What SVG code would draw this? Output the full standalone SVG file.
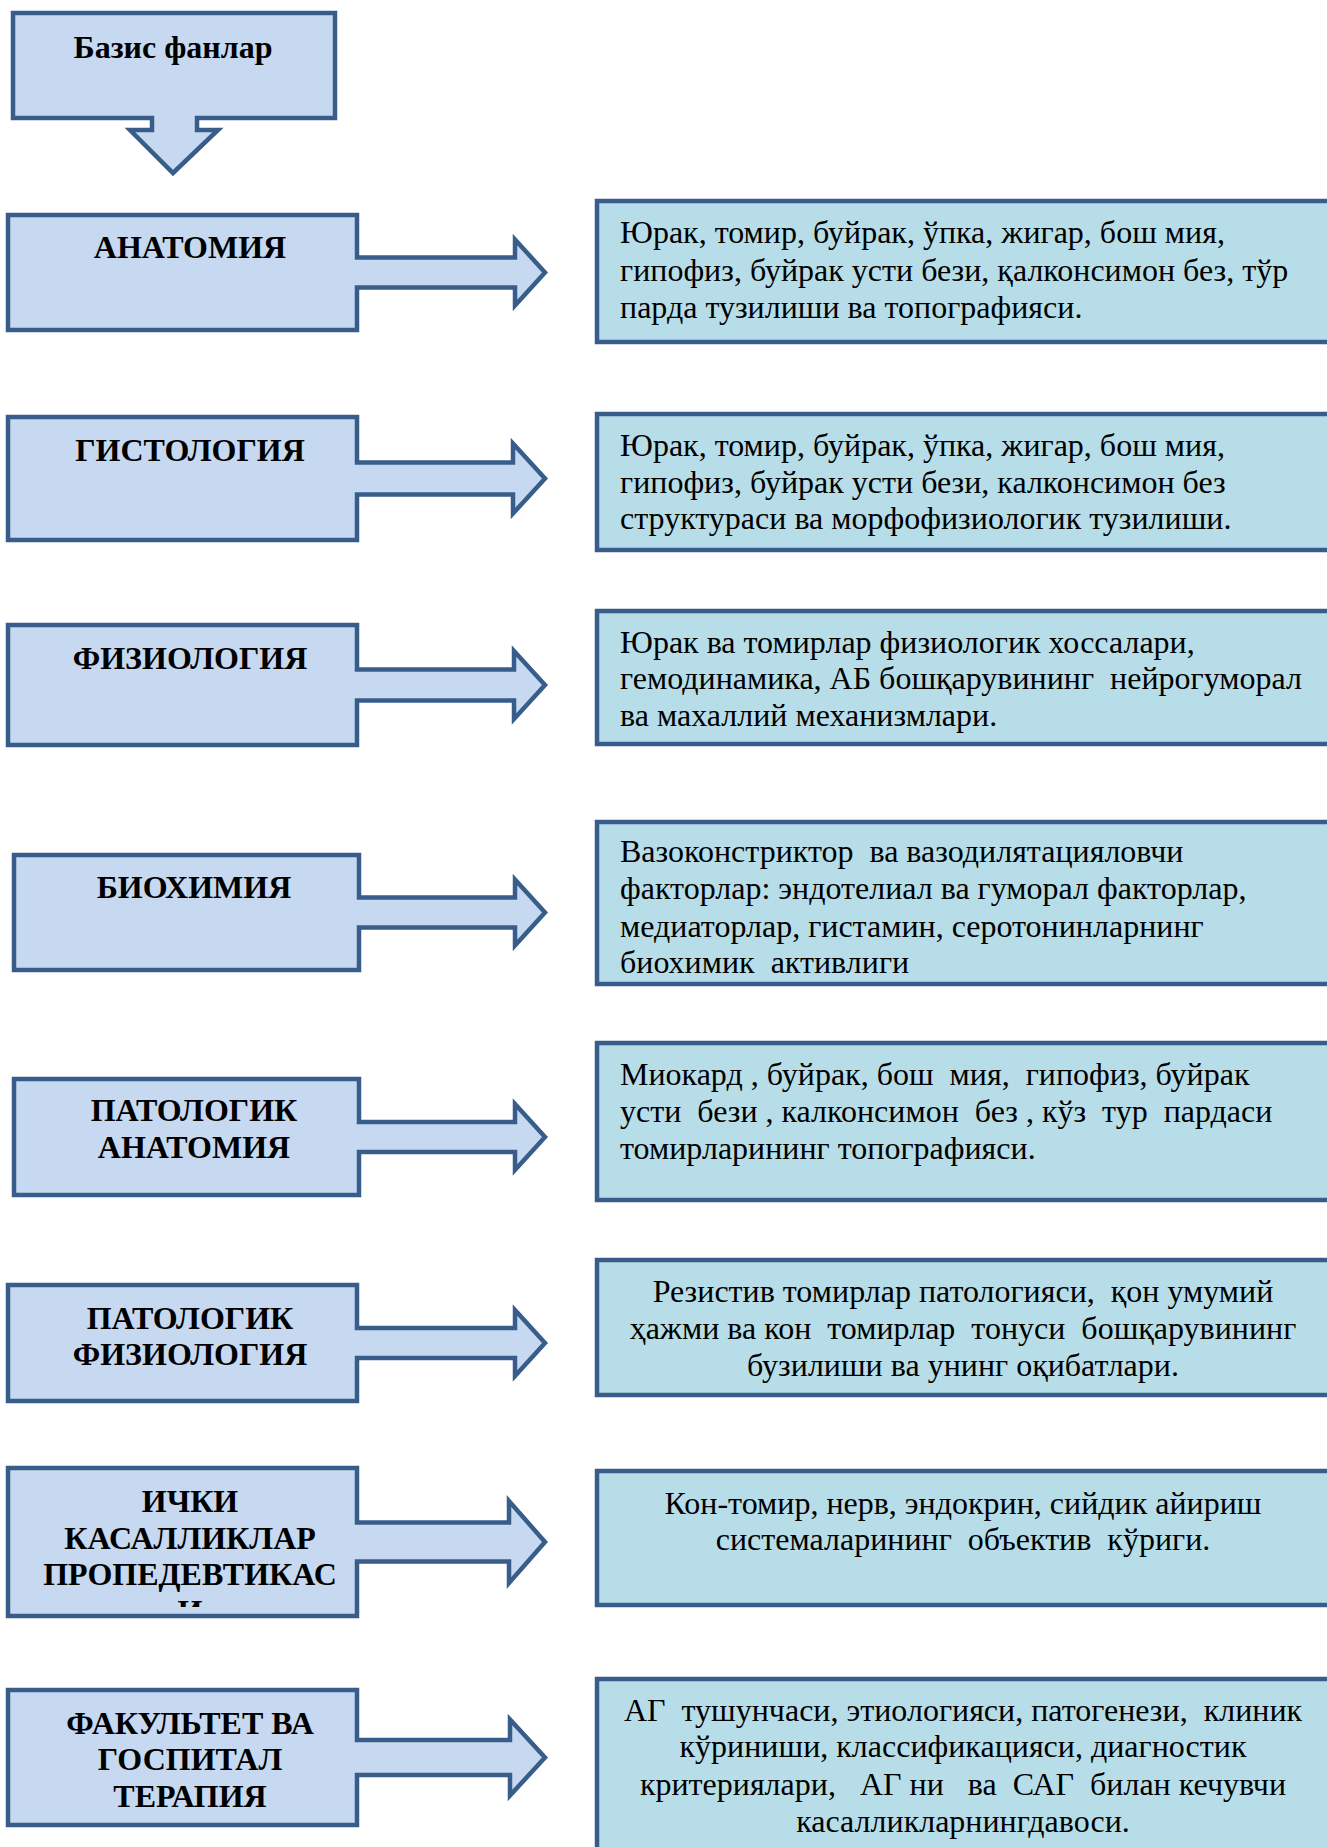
<svg xmlns="http://www.w3.org/2000/svg" width="1327" height="1847" viewBox="0 0 1327 1847">
<style>
.lbox{fill:#C6D9F1;stroke:#385D8A;stroke-width:4.5;stroke-linejoin:miter}
.rbox{fill:#B7DDE8;stroke:#385D8A;stroke-width:4.5}
.lt{font-family:"Liberation Serif","Times New Roman",serif;font-size:32px;font-weight:bold;fill:#000;text-anchor:middle}
.rt{font-family:"Liberation Serif","Times New Roman",serif;font-size:32px;fill:#000}
.c{text-anchor:middle}
</style>
<defs>
<clipPath id="clip7"><rect x="0" y="1460" width="360" height="147"/></clipPath>
</defs>
<rect width="1327" height="1847" fill="#fff"/>
<g id="basis">
<path class="lbox" d="M13 13 H335 V118 H197 V130 H218 L173 173 L130 130 H152 V118 H13 Z"/>
<text class="lt" x="173" y="58">Базис фанлар</text>
</g>
<g id="connectors">
</g>
<g id="n1">
<path class="lbox" d="M8 215 H357 V257.5 H515 V239.5 L545 272.5 L515 305.5 V287.5 H357 V330 H8 Z"/>
<text class="lt" x="190" y="258">АНАТОМИЯ</text>
</g>
<g id="n2">
<path class="lbox" d="M8 417 H357 V462.5 H513 V443.5 L545 478.5 L513 513.5 V494.5 H357 V540 H8 Z"/>
<text class="lt" x="190" y="461">ГИСТОЛОГИЯ</text>
</g>
<g id="n3">
<path class="lbox" d="M8 625 H357 V669.5 H514 V651 L545 685 L514 719 V700.5 H357 V745 H8 Z"/>
<text class="lt" x="190" y="669">ФИЗИОЛОГИЯ</text>
</g>
<g id="n4">
<path class="lbox" d="M14 855 H359 V897.5 H515 V879.5 L545 912.5 L515 945.5 V927.5 H359 V970 H14 Z"/>
<text class="lt" x="194" y="898">БИОХИМИЯ</text>
</g>
<g id="n5">
<path class="lbox" d="M14 1079 H359 V1122 H515 V1104 L545 1137 L515 1170 V1152 H359 V1195 H14 Z"/>
<text class="lt" x="194" y="1121">ПАТОЛОГИК</text>
<text class="lt" x="194" y="1158">АНАТОМИЯ</text>
</g>
<g id="n6">
<path class="lbox" d="M8 1285 H357 V1328 H515 V1310 L545 1343 L515 1376 V1358 H357 V1401 H8 Z"/>
<text class="lt" x="190" y="1329">ПАТОЛОГИК</text>
<text class="lt" x="190" y="1365">ФИЗИОЛОГИЯ</text>
</g>
<g id="n7">
<path class="lbox" d="M8 1468 H357 V1522.5 H509 V1501 L545 1542 L509 1583 V1561.5 H357 V1616 H8 Z"/>
<g clip-path="url(#clip7)">
<text class="lt" x="190" y="1512">ИЧКИ</text>
<text class="lt" x="190" y="1549">КАСАЛЛИКЛАР</text>
<text class="lt" x="190" y="1585">ПРОПЕДЕВТИКАС</text>
<text class="lt" x="190" y="1622">И</text>
</g>
</g>
<g id="n8">
<path class="lbox" d="M8 1690 H357 V1740 H510 V1719.5 L545 1757.5 L510 1795.5 V1775 H357 V1825 H8 Z"/>
<text class="lt" x="190" y="1734">ФАКУЛЬТЕТ ВА</text>
<text class="lt" x="190" y="1770">ГОСПИТАЛ</text>
<text class="lt" x="190" y="1807">ТЕРАПИЯ</text>
</g>
<g id="r1">
<rect class="rbox" x="597" y="201" width="740" height="141"/>
<text class="rt" x="620" y="243" xml:space="preserve">Юрак, томир, буйрак, ўпка, жигар, бош мия,</text>
<text class="rt" x="620" y="281" xml:space="preserve">гипофиз, буйрак усти бези, қалконсимон без, тўр</text>
<text class="rt" x="620" y="318">парда тузилиши ва топографияси.</text>
</g>
<g id="r2">
<rect class="rbox" x="597" y="414" width="740" height="136"/>
<text class="rt" x="620" y="456" xml:space="preserve">Юрак, томир, буйрак, ўпка, жигар, бош мия,</text>
<text class="rt" x="620" y="493" xml:space="preserve">гипофиз, буйрак усти бези, калконсимон без</text>
<text class="rt" x="620" y="529">структураси ва морфофизиологик тузилиши.</text>
</g>
<g id="r3">
<rect class="rbox" x="597" y="611" width="740" height="133"/>
<text class="rt" x="620" y="653" xml:space="preserve">Юрак ва томирлар физиологик хоссалари,</text>
<text class="rt" x="620" y="689" xml:space="preserve">гемодинамика, АБ бошқарувининг  нейрогуморал</text>
<text class="rt" x="620" y="726" xml:space="preserve">ва махаллий механизмлари.</text>
</g>
<g id="r4">
<rect class="rbox" x="597" y="822" width="740" height="162"/>
<text class="rt" x="620" y="862" xml:space="preserve">Вазоконстриктор  ва вазодилятацияловчи</text>
<text class="rt" x="620" y="899" xml:space="preserve">факторлар: эндотелиал ва гуморал факторлар,</text>
<text class="rt" x="620" y="937" xml:space="preserve">медиаторлар, гистамин, серотонинларнинг</text>
<text class="rt" x="620" y="973" xml:space="preserve">биохимик  активлиги</text>
</g>
<g id="r5">
<rect class="rbox" x="597" y="1043" width="740" height="157"/>
<text class="rt" x="620" y="1085" xml:space="preserve">Миокард , буйрак, бош  мия,  гипофиз, буйрак</text>
<text class="rt" x="620" y="1122" xml:space="preserve">усти  бези , калконсимон  без , кўз  тур  пардаси</text>
<text class="rt" x="620" y="1159" xml:space="preserve">томирларининг топографияси.</text>
</g>
<g id="r6">
<rect class="rbox" x="597" y="1260" width="740" height="135"/>
<text class="rt c" x="963" y="1302" xml:space="preserve">Резистив томирлар патологияси,  қон умумий</text>
<text class="rt c" x="963" y="1339" xml:space="preserve">ҳажми ва кон  томирлар  тонуси  бошқарувининг</text>
<text class="rt c" x="963" y="1376" xml:space="preserve">бузилиши ва унинг оқибатлари.</text>
</g>
<g id="r7">
<rect class="rbox" x="597" y="1471" width="740" height="134"/>
<text class="rt c" x="963" y="1514" xml:space="preserve">Кон-томир, нерв, эндокрин, сийдик айириш</text>
<text class="rt c" x="963" y="1550" xml:space="preserve">системаларининг  объектив  кўриги.</text>
</g>
<g id="r8">
<rect class="rbox" x="597" y="1679" width="740" height="190"/>
<text class="rt c" x="963" y="1721" xml:space="preserve">АГ  тушунчаси, этиологияси, патогенези,  клиник</text>
<text class="rt c" x="963" y="1757" xml:space="preserve">кўриниши, классификацияси, диагностик</text>
<text class="rt c" x="963" y="1795" xml:space="preserve">критериялари,   АГ ни   ва  САГ  билан кечувчи</text>
<text class="rt c" x="963" y="1832" xml:space="preserve">касалликларнингдавоси.</text>
</g>
</svg>
